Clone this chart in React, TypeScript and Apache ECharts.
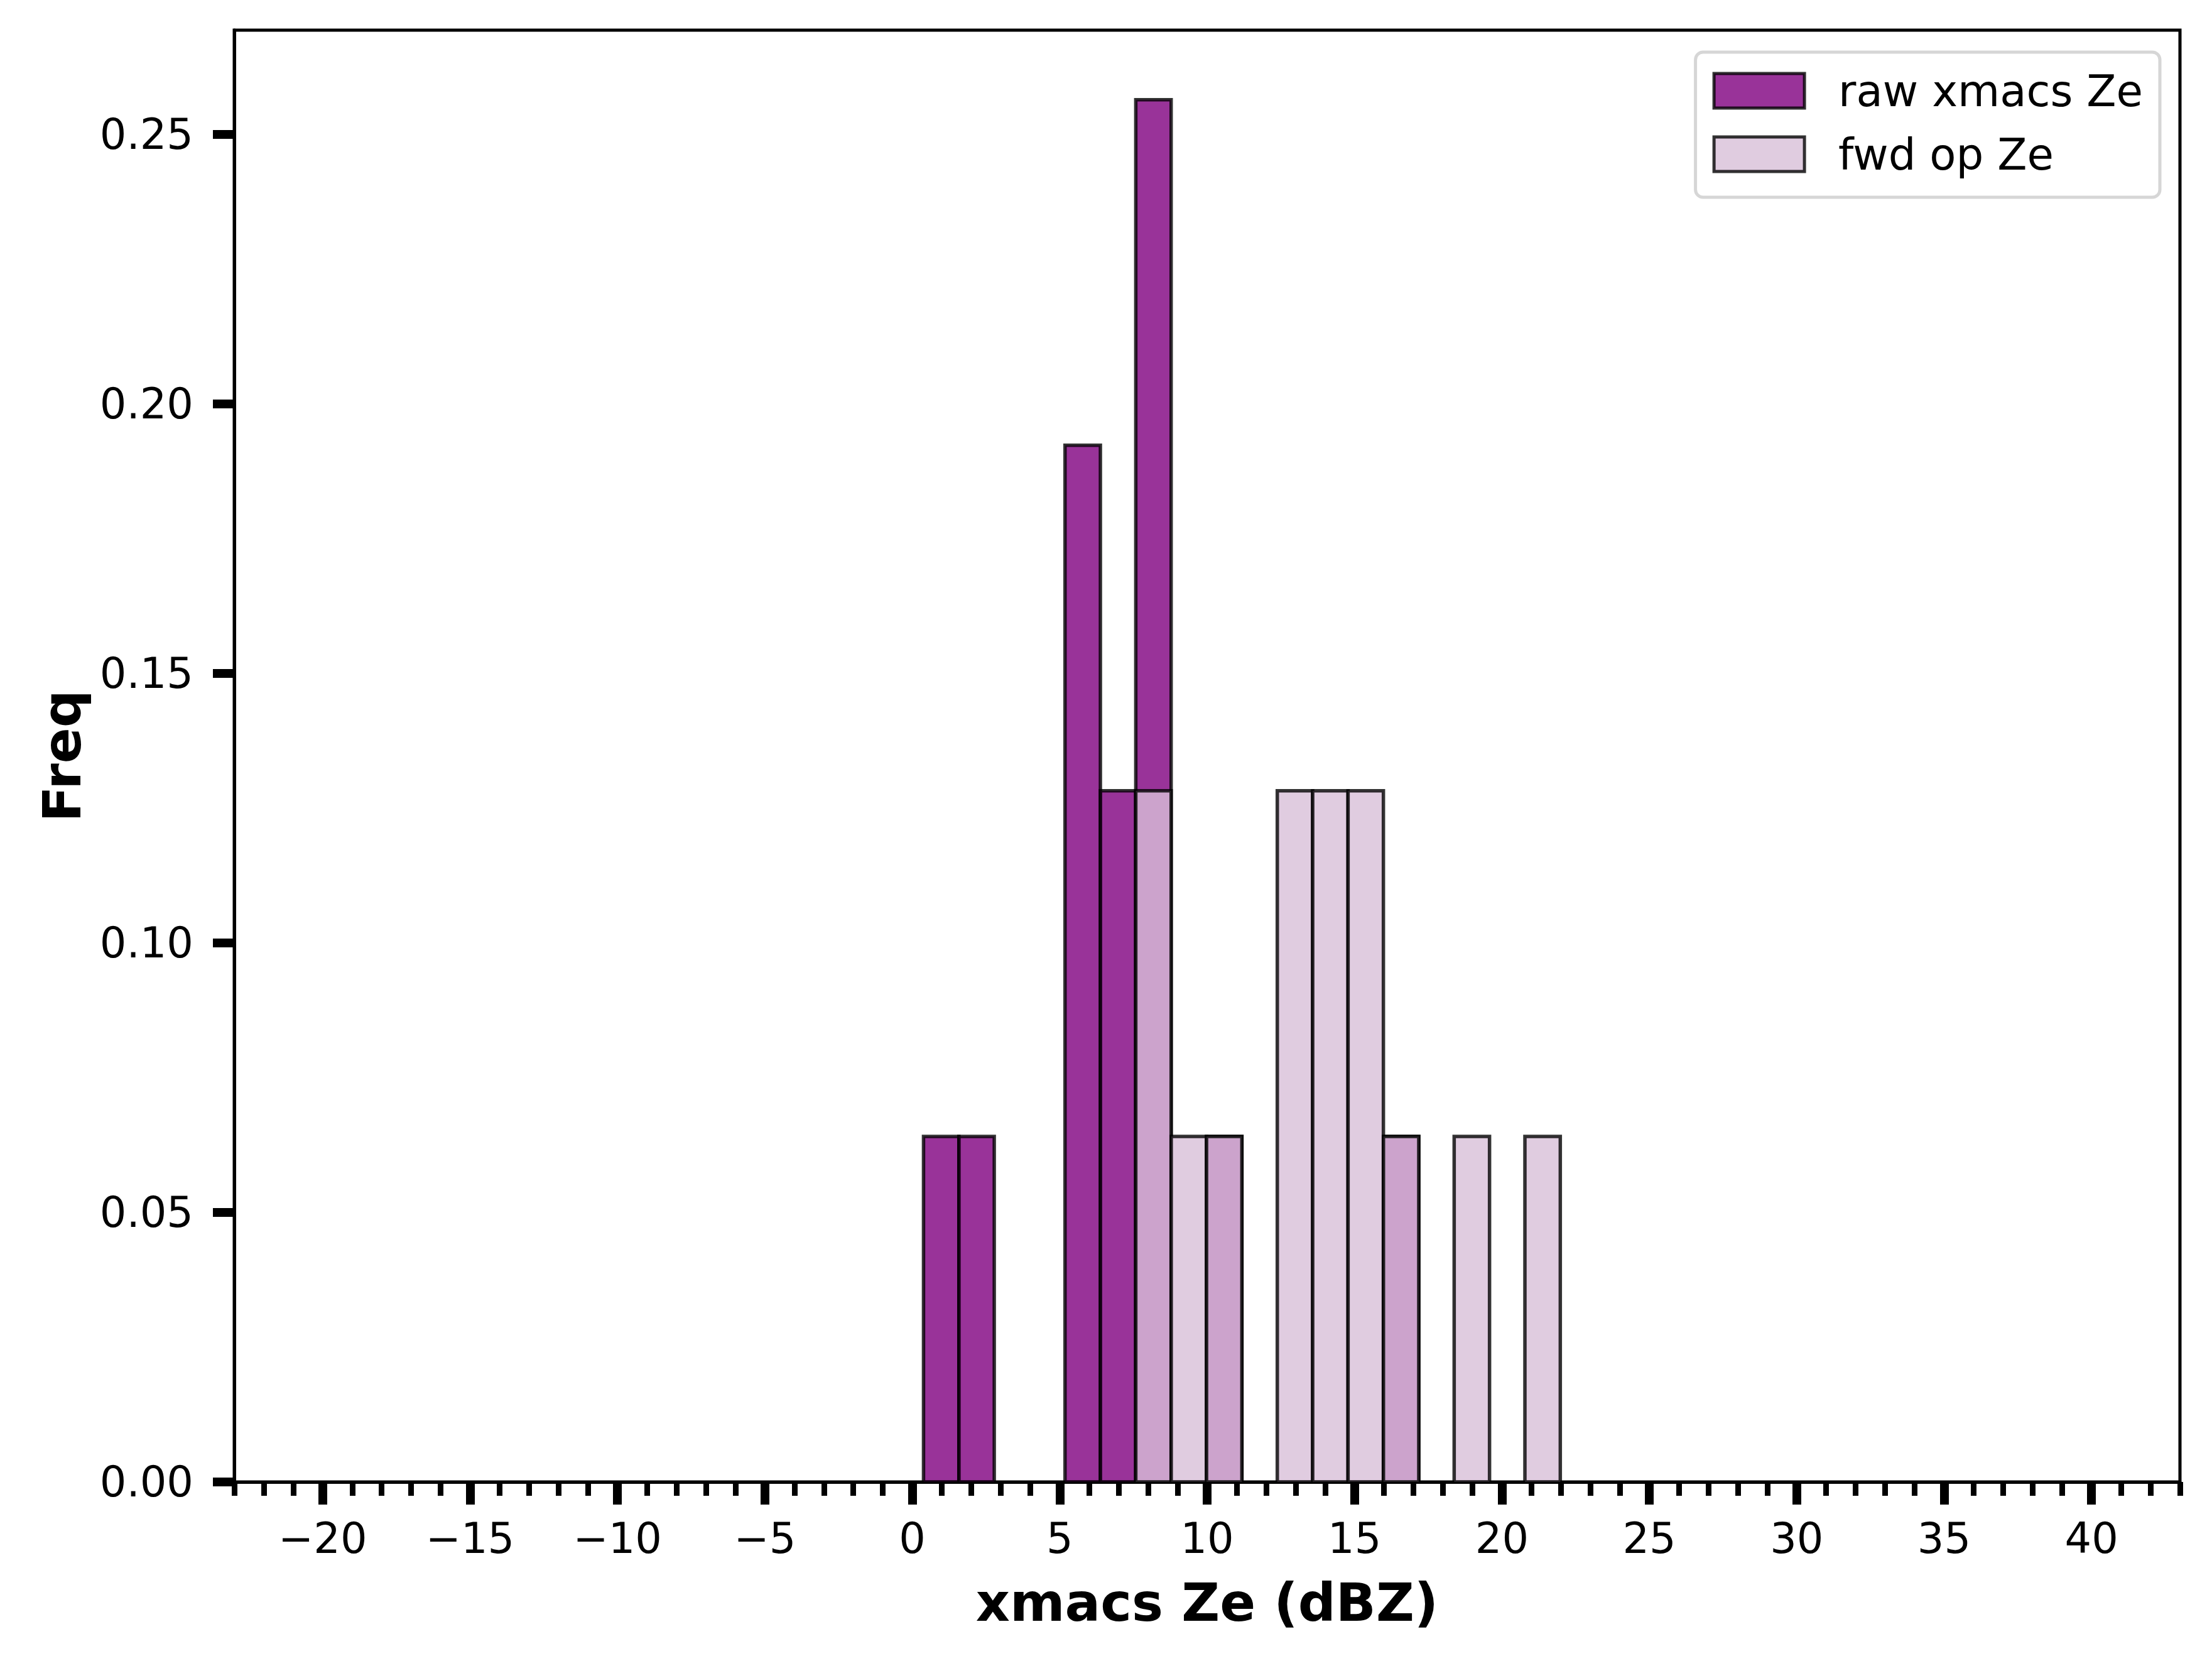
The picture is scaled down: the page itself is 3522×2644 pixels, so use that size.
import React, { useEffect, useRef } from "react";
import * as echarts from "echarts";

// Histogram bins (left edges, dBZ) and common bin width
const binLeft = [0.38, 1.58, 2.78, 3.98, 5.18, 6.38, 7.58, 8.78, 9.98, 11.18, 12.38, 13.58, 14.78, 15.98, 17.18, 18.38, 19.58, 20.78];
const binWidth = 1.2;

// Normalised frequencies
const rawFreq = [0.0641, 0.0641, 0, 0, 0.1923, 0.1282, 0.2564, 0, 0.0641, 0, 0, 0, 0, 0.0641, 0, 0, 0, 0];
const fwdFreq = [0, 0, 0, 0, 0, 0, 0.1282, 0.0641, 0.0641, 0, 0.1282, 0.1282, 0.1282, 0.0641, 0, 0.0641, 0, 0.0641];

const xMajorTicks = [-20, -15, -10, -5, 0, 5, 10, 15, 20, 25, 30, 35, 40];
const yTicks = [0, 0.05, 0.1, 0.15, 0.2, 0.25];

const seriesNames = ["raw xmacs Ze", "fwd op Ze"];
const RAW_FILL = "rgba(128,0,128,0.8)";
const FWD_FILL = "rgba(216,191,216,0.8)";
const EDGE = "rgba(0,0,0,0.8)";
const FONT = "DejaVu Sans";

function makeData(vals: number[]) {
  return binLeft.map((l, i) => [l, l + binWidth, vals[i]]);
}

function renderBar(fill: string) {
  return (params: any, api: any) => {
    const x0 = api.value(0);
    const x1 = api.value(1);
    const v = api.value(2);
    if (!v) return null;
    const p0 = api.coord([x0, v]);
    const p1 = api.coord([x1, 0]);
    return {
      type: "rect",
      shape: { x: p0[0], y: p0[1], width: p1[0] - p0[0], height: p1[1] - p0[1] },
      style: { fill, stroke: EDGE, lineWidth: 5.5 },
    };
  };
}

export default function App() {
  const ref = useRef<HTMLDivElement>(null);
  useEffect(() => {
    if (!ref.current) return;
    const chart = echarts.init(ref.current, null, { renderer: "svg" });
    const fmtX = (v: number) => (v < 0 ? "\u2212" + Math.abs(v) : String(v));
    chart.setOption({
      animation: false,
      backgroundColor: "#ffffff",
      grid: {
        left: 373,
        right: 51,
        top: 48,
        bottom: 285,
        show: true,
        borderColor: "#000",
        borderWidth: 5,
        containLabel: false,
      },
      legend: {
        right: 83,
        top: 83,
        orient: "vertical",
        data: [
          { name: seriesNames[0], icon: "rect", itemStyle: { color: RAW_FILL, borderColor: EDGE, borderWidth: 5 } },
          { name: seriesNames[1], icon: "rect", itemStyle: { color: FWD_FILL, borderColor: EDGE, borderWidth: 5 } },
        ],
        itemWidth: 144,
        itemHeight: 55,
        itemGap: 32,
        padding: [27, 27, 34, 27],
        borderColor: "#d6d6d6",
        borderWidth: 5,
        borderRadius: 12,
        backgroundColor: "#ffffff",
        textStyle: { fontSize: 69, lineHeight: 55, fontFamily: FONT, color: "#000", padding: [0, 0, 0, 49] },
        selectedMode: false,
      },
      xAxis: [
        {
          type: "value",
          min: -23,
          max: 43,
          interval: 1,
          axisLine: { show: true, onZero: false, lineStyle: { color: "#000", width: 5 } },
          axisTick: { show: true, inside: false, length: 22, lineStyle: { color: "#000", width: 9 } },
          axisLabel: { show: false },
          splitLine: { show: false },
        },
        {
          type: "value",
          min: -23,
          max: 43,
          splitNumber: 13,
          position: "bottom",
          axisLine: { show: false, onZero: false },
          axisTick: {
            show: true,
            inside: false,
            length: 36,
            customValues: xMajorTicks,
            lineStyle: { color: "#000", width: 14 },
          },
          axisLabel: {
            show: true,
            customValues: xMajorTicks,
            formatter: fmtX,
            fontSize: 67,
            fontFamily: FONT,
            color: "#000",
            margin: 56,
          },
          splitLine: { show: false },
          name: "xmacs Ze (dBZ)",
          nameLocation: "middle",
          nameGap: 150,
          nameTextStyle: { fontSize: 84, fontWeight: "bold", fontFamily: FONT, color: "#000" },
        },
      ],
      yAxis: {
        type: "value",
        min: 0,
        max: 0.2693,
        interval: 0.05,
        axisLine: { show: true, onZero: false, lineStyle: { color: "#000", width: 5 } },
        axisTick: {
          show: true,
          inside: false,
          length: 34,
          customValues: yTicks,
          lineStyle: { color: "#000", width: 14 },
        },
        axisLabel: {
          show: true,
          customValues: yTicks,
          formatter: (v: number) => v.toFixed(2),
          fontSize: 67,
          fontFamily: FONT,
          color: "#000",
          margin: 65,
        },
        splitLine: { show: false },
        name: "Freq",
        nameLocation: "middle",
        nameGap: 232,
        nameTextStyle: { fontSize: 84, fontWeight: "bold", fontFamily: FONT, color: "#000" },
      },
      series: [
        {
          name: seriesNames[0],
          type: "custom",
          xAxisIndex: 0,
          yAxisIndex: 0,
          encode: { x: [0, 1], y: 2 },
          itemStyle: { color: RAW_FILL, borderColor: EDGE, borderWidth: 5 },
          data: makeData(rawFreq),
          renderItem: renderBar(RAW_FILL),
          z: 2,
        },
        {
          name: seriesNames[1],
          type: "custom",
          xAxisIndex: 0,
          yAxisIndex: 0,
          encode: { x: [0, 1], y: 2 },
          itemStyle: { color: FWD_FILL, borderColor: EDGE, borderWidth: 5 },
          data: makeData(fwdFreq),
          renderItem: renderBar(FWD_FILL),
          z: 3,
        },
      ],
    });
    return () => chart.dispose();
  }, []);
  return (
    <div
      ref={ref}
      style={{ position: "absolute", left: 0, top: 0, width: 3522, height: 2644, background: "#fff" }}
    />
  );
}
